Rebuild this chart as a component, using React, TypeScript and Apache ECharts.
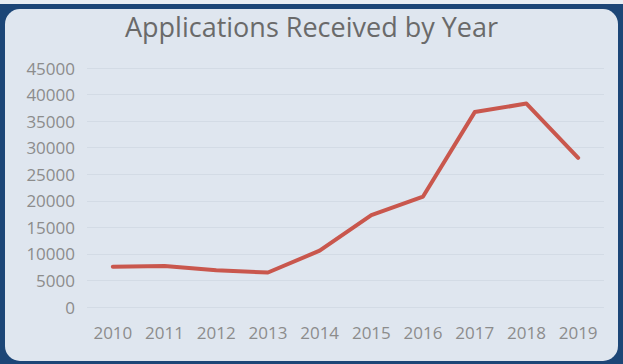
import React, { useEffect, useRef } from "react";
import * as echarts from "echarts";

const years = ["2010", "2011", "2012", "2013", "2014", "2015", "2016", "2017", "2018", "2019"];
const applications = [7600, 7700, 6900, 6500, 10600, 17300, 20800, 36700, 38300, 28100];
const titleText = "Applications Received by Year";

export default function App() {
  const ref = useRef<HTMLDivElement>(null);
  useEffect(() => {
    document.body.style.margin = "0";
    const chart = echarts.init(ref.current!, null, { renderer: "svg" });
    chart.setOption({
      animation: false,
      backgroundColor: "#1c4677",
      graphic: [
        { type: "rect", z: -10, shape: { x: 0, y: 0, width: 623, height: 4 }, style: { fill: "#e8edf3" } },
        { type: "rect", z: -10, shape: { x: 5, y: 9, width: 613, height: 352, r: 15 }, style: { fill: "#dfe6ef" } },
      ],
      title: {
        text: titleText,
        left: "center",
        top: 8,
        textStyle: { fontFamily: "Open Sans", fontSize: 27, fontWeight: "normal", color: "#6a6a6a" },
      },
      grid: { left: 87, right: 19, top: 68, bottom: 57 },
      xAxis: {
        type: "category",
        data: years,
        boundaryGap: true,
        axisLine: { show: false },
        axisTick: { show: false },
        axisLabel: { color: "#8c8c8c", fontFamily: "Open Sans", fontSize: 17, margin: 17, interval: 0 },
      },
      yAxis: {
        type: "value",
        min: 0,
        max: 45000,
        interval: 5000,
        axisLine: { show: false },
        axisTick: { show: false },
        axisLabel: {
          color: "#8c8c8c",
          fontFamily: "Open Sans",
          fontSize: 17,
          margin: 12,
          formatter: (v: number) => String(v),
        },
        splitLine: { lineStyle: { color: "#d3dbe5", width: 1 } },
      },
      series: [
        {
          type: "line",
          data: applications,
          symbol: "none",
          lineStyle: { color: "#c9574d", width: 4, cap: "round", join: "round" },
        },
      ],
    });
    return () => chart.dispose();
  }, []);
  return <div ref={ref} style={{ position: "fixed", left: 0, top: 0, width: 623, height: 364 }} />;
}
